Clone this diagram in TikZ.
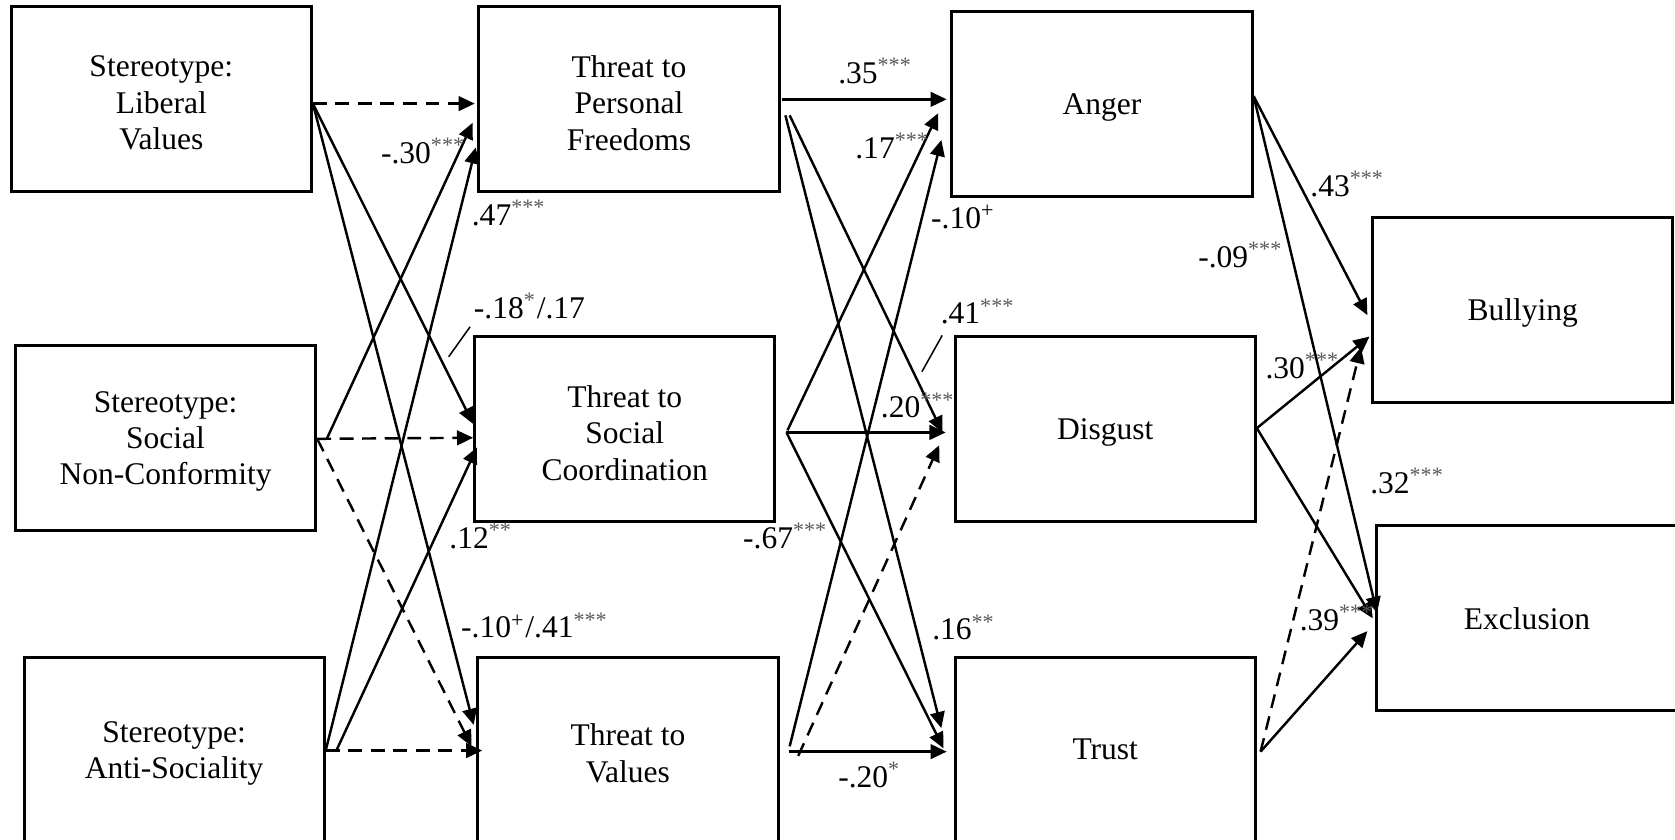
\documentclass[tikz,border=0pt]{standalone}
\usepackage{fontspec}
\setmainfont{Liberation Serif}
\usetikzlibrary{positioning, arrows.meta, calc}

\newcommand{\sig}[1]{\textsuperscript{\textcolor{black!65}{#1}}}

\begin{document}
\begin{tikzpicture}[
    box/.style={draw, line width=0.8pt, rectangle, minimum width=2.81cm, minimum height=1.73cm, align=center, font=\fontsize{8.4}{9.7}\selectfont, text depth=0pt},
    boxtext/.style={align=center, font=\fontsize{8.4}{9.7}\selectfont, yshift=-0.035cm},
    multi/.style={box, label={[boxtext]center:#1}},
    arr/.style={-{Triangle[length=4.3pt, width=3.9pt]}, line width=0.65pt},
    dsh/.style={arr, dash pattern=on 3.7pt off 2.3pt},
    coef/.style={anchor=base west, inner sep=0pt, font=\fontsize{8.4}{9.7}\selectfont},
    tick/.style={line width=0.4pt}
]
    \useasboundingbox (0,0) rectangle (15.68,-7.86);

    % stereotypes
    \node[multi={Stereotype:\\Liberal\\Values}] (lib) at (1.51,-0.93) {};
    \node[multi={Stereotype:\\Social\\Non-Conformity}] (snc) [below=1.41cm of lib, xshift=0.04cm] {};
    \node[multi={Stereotype:\\Anti-Sociality}] (anti) [below=1.16cm of snc, xshift=0.08cm] {};

    % threats
    \node[multi={Threat to\\Personal\\Freedoms}] (tpf) [right=1.54cm of lib] {};
    \node[multi={Threat to\\Social\\Coordination}] (tsc) [right=1.46cm of snc, yshift=0.08cm] {};
    \node[multi={Threat to\\Values}] (tv) [right=1.41cm of anti] {};

    % emotions
    \node[box] (anger) [right=1.59cm of tpf, yshift=-0.04cm] {Anger};
    \node[box] (disg) [right=1.66cm of tsc] {Disgust};
    \node[box] (trust) [right=1.63cm of tv] {Trust};

    % outcomes
    \node[box] (bully) [right=1.10cm of anger, yshift=-1.93cm] {Bullying};
    \node[box] (excl) [right=1.11cm of disg, yshift=-1.77cm] {Exclusion};

    % stereotypes -> threats
    \draw[dsh] ($(lib.east)+(0,-0.04)$) -- ($(tpf.west)+(-0.025,-0.04)$);
    \draw[arr] ($(lib.east)+(0,-0.04)$) -- ($(tsc.west)+(0,0.05)$);
    \draw[arr] ($(lib.east)+(0,-0.04)$) -- ($(tv.west)+(-0.025,0.23)$);
    \draw[arr] ($(snc.east)+(0.09,-0.01)$) -- ($(tpf.west)+(-0.045,-0.22)$);
    \draw[dsh] ($(snc.east)+(0,-0.01)$) -- ($(tsc.west)+(0,-0.08)$);
    \draw[dsh] ($(snc.east)+(0,-0.01)$) -- ($(tv.west)+(-0.045,0.03)$);
    \draw[arr] ($(anti.east)+(0,-0.01)$) -- ($(tpf.west)+(-0.015,-0.45)$);
    \draw[arr] ($(anti.east)+(0.095,-0.02)$) -- ($(tsc.west)+(0.035,-0.17)$);
    \draw[dsh] ($(anti.east)+(0,-0.01)$) -- ($(tv.west)+(0.055,-0.01)$);

    % threats -> emotions
    \draw[arr] ($(tpf.east)+(0.015,0)$) -- ($(anger.west)+(-0.035,0.04)$);
    \draw[arr] ($(tpf.east)+(0.085,-0.15)$) -- ($(disg.west)+(-0.105,-0.03)$);
    \draw[arr] ($(tpf.east)+(0.045,-0.15)$) -- ($(trust.west)+(-0.115,0.20)$);
    \draw[arr] ($(tsc.east)+(0.105,-0.01)$) -- ($(anger.west)+(-0.115,-0.09)$);
    \draw[arr] ($(tsc.east)+(0.095,-0.03)$) -- ($(disg.west)+(-0.075,-0.03)$);
    \draw[arr] ($(tsc.east)+(0.095,-0.03)$) -- ($(trust.west)+(-0.095,0.01)$);
    \draw[arr] ($(tv.east)+(0.095,0.03)$) -- ($(anger.west)+(-0.085,-0.34)$);
    \draw[dsh] ($(tv.east)+(0.175,-0.06)$) -- ($(disg.west)+(-0.135,-0.15)$);
    \draw[arr] ($(tv.east)+(0.085,-0.02)$) -- ($(trust.west)+(-0.065,-0.02)$);

    % emotions -> outcomes
    \draw[arr] ($(anger.east)+(0,0.07)$) -- ($(bully.west)+(-0.035,-0.05)$);
    \draw[arr] ($(anger.east)+(0,0.07)$) -- ($(excl.west)+(0.015,0.05)$);
    \draw[arr] ($(disg.east)+(0,0.01)$) -- ($(bully.west)+(-0.015,-0.25)$);
    \draw[arr] ($(disg.east)+(0,0.01)$) -- ($(excl.west)+(-0.025,0)$);
    \draw[dsh] ($(trust.east)+(0.035,-0.02)$) -- ($(bully.west)+(-0.095,-0.35)$);
    \draw[arr] ($(trust.east)+(0.035,-0.02)$) -- ($(excl.west)+(-0.075,-0.12)$);

    % path coefficients
    \node[coef] (c30) at (3.56,-1.53) {-.30\sig{***}};
    \node[coef] (c47) at (4.41,-2.11) {.47\sig{***}};
    \node[coef] (c18) at (4.43,-2.98) {-.18\sig{*}/.17};
    \node[coef] (c12) at (4.20,-5.13) {.12\sig{**}};
    \node[coef] (c10a) at (4.31,-5.97) {-.10\textsuperscript{+}/.41\sig{***}};
    \node[coef] (c35) at (7.84,-0.78) {.35\sig{***}};
    \node[coef] (c17) at (8.00,-1.48) {.17\sig{***}};
    \node[coef] (c10b) at (8.71,-2.14) {-.10\textsuperscript{+}};
    \node[coef] (c41) at (8.80,-3.03) {.41\sig{***}};
    \node[coef] (c20a) at (8.24,-3.91) {.20\sig{***}};
    \node[coef] (c67) at (6.95,-5.13) {-.67\sig{***}};
    \node[coef] (c16) at (8.72,-5.99) {.16\sig{**}};
    \node[coef] (c20b) at (7.84,-7.37) {-.20\sig{*}};
    \node[coef] (c43) at (12.26,-1.84) {.43\sig{***}};
    \node[coef] (c09) at (11.21,-2.50) {-.09\sig{***}};
    \node[coef] (c30b) at (11.84,-3.54) {.30\sig{***}};
    \node[coef] (c32) at (12.82,-4.62) {.32\sig{***}};
    \node[coef] (c39) at (12.16,-5.90) {.39\sig{***}};

    % pointers from labels to their paths
    \coordinate (t18) at (4.20,-3.34);
    \coordinate (t41) at (8.63,-3.48);
    \draw[tick] (t18) -- ($(c18.base west)+(-0.03,-0.08)$);
    \draw[tick] (t41) -- ($(c41.base west)+(0.02,-0.11)$);
\end{tikzpicture}
\end{document}
